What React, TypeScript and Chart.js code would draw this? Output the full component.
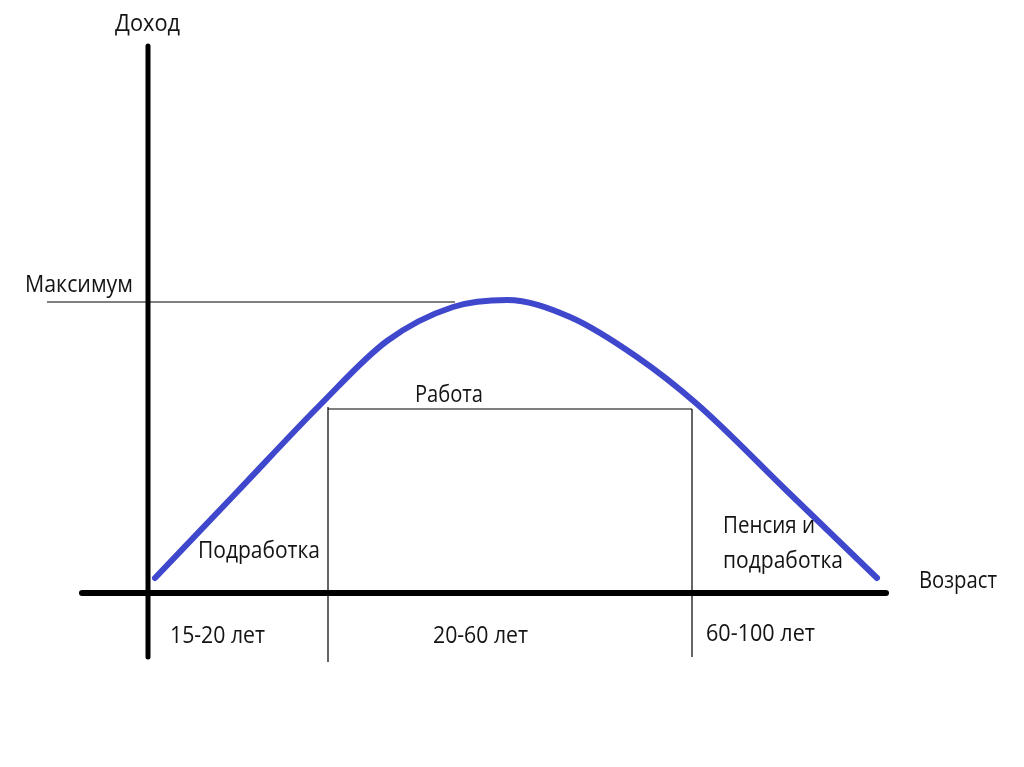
import React, { useEffect, useRef } from "react";
import { Chart, registerables } from "chart.js";

Chart.register(...registerables);

// Income curve over life (x = position along the age axis, y = income above the age axis)
const curveX = [7, 89, 172, 239, 305, 359, 422, 489, 549, 639, 729];
const curveY = [15, 101, 188, 252, 286, 293, 276, 236, 189, 102, 15];

// Period boundaries along the age axis and the "work" / "maximum" levels
const boundaryX = [180, 544];
const workLevel = 184;
const maximumLevel = 291;

const yAxisLabel = "Доход";
const xAxisLabel = "Возраст";
const maxLabel = "Максимум";
const periodLabels = ["15-20 лет", "20-60 лет", "60-100 лет"];
const stageLabels = ["Подработка", "Работа", "Пенсия и", "подработка"];

const X_MIN = -148;
const X_MAX = 876;
const Y_MIN = -174;
const Y_MAX = 593;

// x = left edge, y = baseline, w = text width in px
type Txt = { text: string; x: number; y: number; w: number };
const texts: Txt[] = [
  { text: yAxisLabel, x: -33, y: 562, w: 65 },
  { text: maxLabel, x: -123, y: 301, w: 108 },
  { text: stageLabels[1], x: 267, y: 191, w: 68 },
  { text: stageLabels[0], x: 50, y: 35, w: 122 },
  { text: stageLabels[2], x: 575, y: 60, w: 92 },
  { text: stageLabels[3], x: 575, y: 25, w: 120 },
  { text: xAxisLabel, x: 771, y: 5, w: 78 },
  { text: periodLabels[0], x: 22, y: -50, w: 95 },
  { text: periodLabels[1], x: 285, y: -50, w: 95 },
  { text: periodLabels[2], x: 558, y: -48, w: 109 },
];

const textPlugin = {
  id: "texts",
  afterDatasetsDraw(chart: any) {
    const { ctx, scales } = chart;
    ctx.save();
    ctx.fillStyle = "#141414";
    ctx.font = '23px "Open Sans", sans-serif';
    ctx.textBaseline = "alphabetic";
    ctx.textAlign = "left";
    for (const t of texts) {
      const px = scales.x.getPixelForValue(t.x);
      const py = scales.y.getPixelForValue(t.y);
      const mw = ctx.measureText(t.text).width;
      ctx.save();
      ctx.translate(px, py);
      ctx.scale(t.w / mw, 1);
      ctx.fillText(t.text, 0, 0);
      ctx.restore();
    }
    ctx.restore();
  },
};

export default function App() {
  const ref = useRef<HTMLCanvasElement | null>(null);
  useEffect(() => {
    document.body.style.margin = "0";
    const canvas = ref.current!;
    const line = (pts: { x: number; y: number }[], color: string, width: number, cap: CanvasLineCap = "butt") => ({
      data: pts,
      showLine: true,
      borderColor: color,
      borderWidth: width,
      pointRadius: 0,
      tension: 0,
      borderCapStyle: cap,
    });
    const chart = new Chart(canvas, {
      type: "scatter",
      data: {
        datasets: [
          line([{ x: -101, y: maximumLevel }, { x: 307, y: maximumLevel }], "#000", 1.2),
          line([{ x: boundaryX[0], y: workLevel + 2 }, { x: boundaryX[0], y: -69 }], "#000", 1.2),
          line([{ x: boundaryX[1], y: workLevel }, { x: boundaryX[1], y: -64 }], "#000", 1.2),
          line([{ x: boundaryX[0], y: workLevel }, { x: boundaryX[1], y: workLevel }], "#000", 1.2),
          line([{ x: 0, y: 547 }, { x: 0, y: -64 }], "#000", 5, "round"),
          line([{ x: -66, y: 0 }, { x: 738, y: 0 }], "#000", 6, "round"),
          {
            data: curveX.map((x, i) => ({ x, y: curveY[i] })),
            showLine: true,
            borderColor: "#3f48cc",
            borderWidth: 6,
            pointRadius: 0,
            cubicInterpolationMode: "monotone" as const,
            borderCapStyle: "round" as const,
          },
        ],
      },
      options: {
        animation: false,
        responsive: false,
        maintainAspectRatio: false,
        layout: { padding: 0 },
        plugins: { legend: { display: false }, tooltip: { enabled: false } },
        scales: {
          x: { type: "linear", min: X_MIN, max: X_MAX, display: false },
          y: { type: "linear", min: Y_MIN, max: Y_MAX, display: false },
        },
      },
      plugins: [textPlugin],
    });
    return () => chart.destroy();
  }, []);
  return (
    <div style={{ position: "absolute", left: 0, top: 0, width: 1024, height: 767, background: "#fff" }}>
      <canvas ref={ref} width={1024} height={767} style={{ width: 1024, height: 767, display: "block" }} />
    </div>
  );
}
